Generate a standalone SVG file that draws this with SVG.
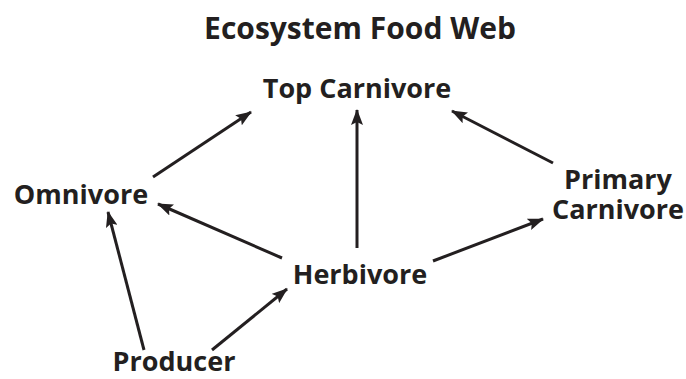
<svg xmlns="http://www.w3.org/2000/svg" width="686" height="379" viewBox="0 0 686 379">
<defs>
<style>
.lbl{font-family:"Open Sans","Liberation Sans",sans-serif;font-weight:bold;font-size:27px;fill:#231f20;text-anchor:middle}
.title{font-size:30px}
.edge{stroke:#231f20;stroke-width:3;fill:none;marker-end:url(#ah)}
</style>
<marker id="ah" viewBox="0 0 16 12" refX="15" refY="6" markerWidth="16" markerHeight="12" markerUnits="userSpaceOnUse" orient="auto">
<path d="M0,0 L16,6 L0,12 L3,6 z" fill="#231f20"/>
</marker>
</defs>
<rect width="686" height="379" fill="#fff"/>
<text class="lbl title" x="360" y="39">Ecosystem Food Web</text>
<g id="connectors">
<line class="edge" x1="153" y1="177" x2="251" y2="112"/>
<line class="edge" x1="357" y1="248" x2="357" y2="110"/>
<line class="edge" x1="553" y1="163" x2="452" y2="111"/>
<line class="edge" x1="282" y1="258" x2="158" y2="204"/>
<line class="edge" x1="433" y1="261" x2="543" y2="219"/>
<line class="edge" x1="144" y1="350" x2="108" y2="212"/>
<line class="edge" x1="212" y1="350" x2="287" y2="289"/>
</g>
<g id="top-carnivore"><text class="lbl" x="357" y="98">Top Carnivore</text></g>
<g id="omnivore"><text class="lbl" x="81" y="204">Omnivore</text></g>
<g id="herbivore"><text class="lbl" x="360" y="284">Herbivore</text></g>
<g id="primary-carnivore"><text class="lbl" x="618" y="189">Primary</text><text class="lbl" x="618" y="219">Carnivore</text></g>
<g id="producer"><text class="lbl" x="174" y="371">Producer</text></g>
</svg>
